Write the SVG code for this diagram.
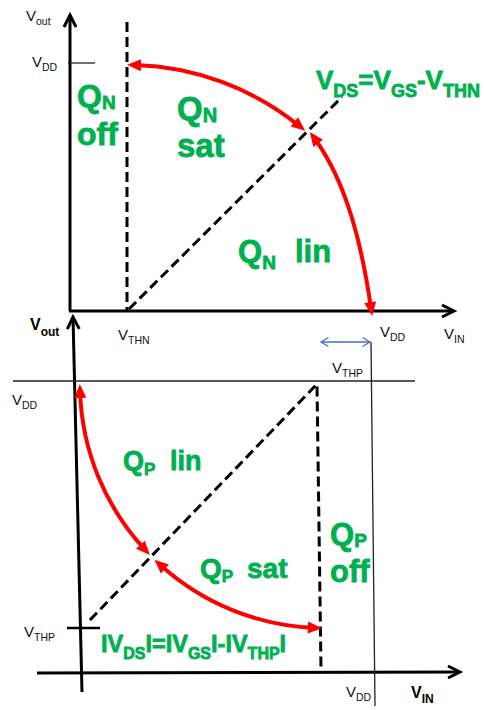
<svg xmlns="http://www.w3.org/2000/svg" width="484" height="710" viewBox="0 0 484 710">
<style>
.ax{stroke:#000;stroke-width:3;fill:none;marker-end:url(#oa)}
.dash{stroke:#000;stroke-width:3;fill:none;stroke-dasharray:10 5}
.thin{stroke:#222;stroke-width:1.3;fill:none}
.red{stroke:#FF0000;stroke-width:4;fill:none;marker-start:url(#ra);marker-end:url(#ra)}
.g{font-family:"Liberation Sans",Arial,sans-serif;font-weight:bold;fill:#00B050;stroke:#00B050;stroke-width:0.8}
.l{font-family:"Liberation Sans",Arial,sans-serif;fill:#111;font-size:15px}
.lb{font-family:"Liberation Sans",Arial,sans-serif;fill:#000;font-size:16px;font-weight:bold}
</style>
<defs>
<marker id="ra" markerUnits="userSpaceOnUse" markerWidth="14" markerHeight="12" refX="6" refY="6" orient="auto-start-reverse" overflow="visible"><path d="M0,0 L14,6 L0,12 z" fill="#FF0000"/></marker>
<marker id="oa" markerUnits="userSpaceOnUse" markerWidth="14" markerHeight="14" refX="12" refY="6" orient="auto" overflow="visible"><path d="M0,0 L12,6 L0,12" fill="none" stroke="#000" stroke-width="3"/></marker>
<marker id="ba" markerUnits="userSpaceOnUse" markerWidth="8" markerHeight="10" refX="7.5" refY="4.5" orient="auto-start-reverse" overflow="visible"><path d="M0,0 L7.5,4.5 L0,9" fill="none" stroke="#4472C4" stroke-width="1.3"/></marker>
</defs>
<rect width="484" height="710" fill="#fff"/>
<g id="connectors">
  <path class="ax" d="M70,311 L70,15"/>
  <path class="ax" d="M69,311 L454,311"/>
  <path class="ax" d="M82,692 L73,317"/>
  <path class="ax" d="M37,673 L460,672"/>
  <path class="thin" d="M68,63 L95,63"/>
  <path class="thin" d="M13,381 L415,381"/>
  <path class="thin" d="M371,342 L375,706"/>
  <path d="M67,628 L100,628" stroke="#000" stroke-width="2.5"/>
  <path d="M321,342 L370,342" stroke="#4472C4" stroke-width="1.3" marker-start="url(#ba)" marker-end="url(#ba)"/>
  <path class="dash" d="M127,22 L127,311"/>
  <path class="dash" d="M129,309 L342,97"/>
  <path class="dash" d="M90,620 L317,384 L321,670"/>
  <path class="red" d="M135,65.1 A274,274 0 0 1 299,125.7"/>
  <path class="red" d="M371,308.2 C362,246 347,183 314.6,138.5"/>
  <path class="red" d="M80.1,392 A244,244 0 0 0 144.5,549.2"/>
  <path class="red" d="M160.4,565 A244,244 0 0 0 313.9,627.8"/>
</g>
<g id="axis-labels">
  <text class="l" x="26" y="21">V<tspan font-size="10.5" dy="4">out</tspan></text>
  <text class="l" x="32" y="67">V<tspan font-size="10.5" dy="4">DD</tspan></text>
  <text class="l" x="118" y="340">V<tspan font-size="10.5" dy="4">THN</tspan></text>
  <text class="l" x="380" y="337">V<tspan font-size="10.5" dy="4">DD</tspan></text>
  <text class="l" x="444" y="339">V<tspan font-size="10.5" dy="4">IN</tspan></text>
  <text class="l" x="332" y="373">V<tspan font-size="10.5" dy="4">THP</tspan></text>
  <text class="l" x="12" y="405">V<tspan font-size="10.5" dy="4">DD</tspan></text>
  <text class="l" x="24" y="637">V<tspan font-size="10.5" dy="4">THP</tspan></text>
  <text class="l" x="346" y="697">V<tspan font-size="10.5" dy="4">DD</tspan></text>
  <text class="lb" x="30" y="330">V<tspan font-size="12" dy="6">out</tspan></text>
  <text class="lb" x="411" y="698">V<tspan font-size="12" dy="5">IN</tspan></text>
</g>
<g id="qn-off">
  <text class="g" x="77" y="107" font-size="32">Q<tspan font-size="19" dy="2">N</tspan></text>
  <text class="g" x="77" y="145" font-size="32">off</text>
</g>
<g id="qn-sat">
  <text class="g" x="177" y="120" font-size="33">Q<tspan font-size="20" dy="2">N</tspan></text>
  <text class="g" x="177" y="157" font-size="33">sat</text>
</g>
<g id="qn-lin">
  <text class="g" x="238" y="262" font-size="31">Q<tspan font-size="19" dy="7">N</tspan></text>
  <text class="g" x="295" y="262" font-size="31">lin</text>
</g>
<g id="vds-n">
  <text class="g" x="316" y="89" font-size="26">V<tspan font-size="18" dy="8">DS</tspan><tspan dy="-8">=V</tspan><tspan font-size="18" dy="8">GS</tspan><tspan dy="-8">-V</tspan><tspan font-size="18" dy="8">THN</tspan></text>
</g>
<g id="qp-lin">
  <text class="g" x="123" y="470" font-size="27">Q<tspan font-size="17" dy="5">P</tspan></text>
  <text class="g" x="170" y="470" font-size="27">lin</text>
</g>
<g id="qp-sat">
  <text class="g" x="200" y="578" font-size="28">Q<tspan font-size="17" dy="4">P</tspan></text>
  <text class="g" x="247" y="578" font-size="28">sat</text>
</g>
<g id="qp-off">
  <text class="g" x="330" y="545" font-size="31">Q<tspan font-size="19" dy="2">P</tspan></text>
  <text class="g" x="330" y="582" font-size="31">off</text>
</g>
<g id="vds-p">
  <text class="g" x="101" y="652" font-size="23.5">IV<tspan font-size="16" dy="7">DS</tspan><tspan dy="-7">I=IV</tspan><tspan font-size="16" dy="7">GS</tspan><tspan dy="-7">I-IV</tspan><tspan font-size="16" dy="7">THP</tspan><tspan dy="-7">I</tspan></text>
</g>
</svg>
